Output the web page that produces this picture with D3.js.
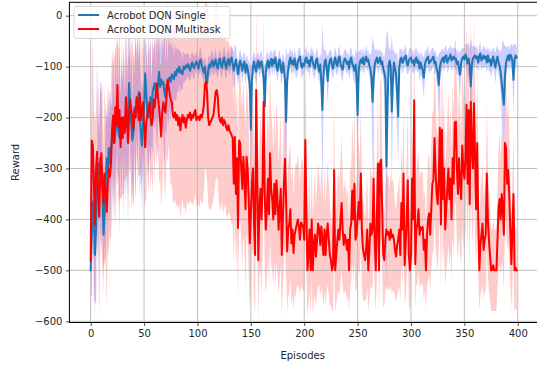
<!DOCTYPE html>
<html>
<head>
<meta charset="utf-8">
<script src="https://cdn.jsdelivr.net/npm/d3@7"></script>
<style>
  body { margin: 0; background: #ffffff; }
  svg { display: block; }
  text { font-family: "DejaVu Sans", sans-serif; fill: #262626; }
</style>
</head>
<body>
<svg id="chart" width="537" height="365"></svg>
<script>
// Mean episode reward and its spread, single-task agent
const singleReward = [
  -500,-430,-365,-400,-470,-420,-330,-290,-310,-280,-300,-350,-430,-390,-330,-280,-310,-260,-290,-264,
  -240,-225,-250,-235,-210,-185,-230,-240,-215,-225,-200,-230,-210,-190,-220,-190,-132,-180,-215,-245,
  -230,-180,-200,-165,-170,-150,-200,-230,-255,-210,-180,-113,-150,-190,-200,-185,-160,-195,-150,-140,
  -132,-150,-160,-135,-110,-140,-125,-135,-130,-150,-160,-135,-145,-125,-121,-130,-115,-120,-125,-110,
  -118,-105,-110,-100,-112,-108,-115,-100,-105,-98,-102,-95,-100,-108,-98,-92,-100,-103,-95,-90,
  -96,-104,-90,-86,-98,-105,-112,-100,-125,-133,-108,-96,-102,-92,-88,-100,-94,-86,-98,-104,
  -90,-84,-97,-102,-88,-82,-96,-104,-90,-85,-98,-88,-82,-94,-108,-96,-86,-100,-115,-98,
  -88,-97,-108,-95,-90,-112,-96,-104,-118,-135,-224,-128,-100,-90,-102,-110,-94,-88,-103,-92,
  -90,-104,-124,-178,-112,-95,-88,-102,-93,-85,-99,-86,-94,-82,-100,-108,-92,-86,-104,-112,
  -92,-103,-128,-208,-126,-106,-90,-82,-95,-88,-97,-84,-98,-105,-90,-86,-80,-96,-102,-94,
  -98,-86,-82,-93,-88,-100,-86,-80,-92,-98,-104,-88,-84,-99,-110,-96,-132,-185,-118,-92,
  -86,-102,-128,-98,-88,-84,-97,-104,-90,-82,-94,-99,-85,-80,-95,-100,-106,-90,-84,-88,
  -95,-90,-104,-88,-82,-94,-100,-108,-96,-122,-195,-108,-92,-86,-93,-82,-96,-86,-80,-90,
  -86,-98,-104,-122,-169,-124,-96,-88,-82,-93,-88,-82,-95,-90,-104,-112,-124,-296,-178,-98,
  -88,-100,-188,-128,-92,-104,-114,-152,-198,-102,-86,-82,-93,-88,-82,-78,-92,-98,-88,-84,
  -82,-92,-88,-98,-86,-82,-93,-88,-104,-92,-100,-108,-122,-96,-88,-84,-80,-94,-90,-88,
  -84,-80,-94,-90,-104,-112,-136,-102,-92,-86,-82,-92,-80,-78,-92,-86,-82,-76,-88,-84,
  -80,-86,-84,-95,-90,-104,-116,-92,-84,-80,-86,-76,-82,-94,-84,-98,-139,-96,-84,-80,
  -78,-84,-80,-92,-78,-74,-88,-84,-78,-84,-80,-92,-78,-90,-86,-98,-88,-80,-92,-102,
  -88,-80,-92,-98,-112,-132,-155,-175,-118,-92,-84,-78,-88,-76,-80,-90,-126,-86,-78,-82
];
const singleSpread = [
  50,120,60,160,90,150,60,180,70,150,170,60,120,50,160,80,170,60,150,90,
  60,170,70,180,60,150,80,190,60,140,70,170,50,180,70,160,110,60,170,80,
  150,60,170,70,140,60,160,80,130,60,150,50,120,60,150,70,130,60,120,50,
  90,50,130,60,100,70,120,60,100,150,60,100,50,90,60,80,45,70,40,55,
  50,45,40,35,40,35,30,30,28,25,25,22,25,20,22,20,25,22,20,18,
  20,18,22,25,20,18,25,22,30,35,25,20,18,22,20,18,20,22,18,20,
  18,20,22,18,20,22,25,20,18,22,20,18,22,30,35,40,25,20,22,25,
  22,20,25,22,18,25,20,22,30,40,120,40,25,20,22,25,20,18,20,22,
  20,22,30,80,30,22,18,20,22,18,20,18,22,20,18,22,20,18,22,25,
  20,22,35,150,50,30,20,18,22,20,18,20,22,18,20,22,18,20,22,20,
  18,20,22,18,20,22,18,20,22,25,20,18,22,20,25,22,50,170,60,22,
  20,25,50,25,20,18,22,20,18,22,20,18,22,20,18,22,25,20,18,22,
  20,18,22,25,20,18,22,25,30,50,120,40,22,20,18,22,20,18,22,20,
  18,22,30,50,130,70,30,20,18,22,20,18,22,20,25,30,60,260,150,40,
  25,30,150,60,25,30,40,80,100,35,20,18,22,20,18,22,20,18,22,20,
  18,20,22,18,20,22,18,20,25,22,25,30,40,25,20,18,22,20,18,22,
  20,18,22,20,25,30,60,30,22,20,18,20,22,18,20,22,18,20,22,20,
  18,22,20,22,25,30,45,25,20,18,20,22,25,40,30,35,95,40,22,20,
  18,20,22,18,20,22,18,20,22,18,20,22,18,20,22,25,22,20,22,30,
  25,22,25,30,40,70,110,120,60,30,22,20,22,18,25,30,70,30,22,20
];

// Mean episode reward and its spread, multitask agent
const multiReward = [
  -480,-245,-255,-330,-410,-300,-267,-350,-395,-300,-270,-325,-370,-310,-345,-385,-330,-300,-316,-290,
  -224,-196,-250,-180,-215,-136,-219,-185,-258,-200,-240,-200,-230,-160,-210,-250,-190,-165,-185,-200,
  -224,-185,-200,-160,-175,-205,-153,-205,-185,-170,-215,-258,-210,-195,-185,-170,-200,-215,-205,-165,
  -180,-150,-133,-160,-180,-205,-237,-190,-170,-185,-190,-160,-126,-140,-153,-165,-170,-195,-200,-190,
  -205,-195,-215,-200,-225,-205,-195,-210,-200,-220,-205,-195,-200,-190,-205,-195,-200,-190,-185,-205,
  -200,-198,-205,-195,-200,-190,-175,-135,-130,-150,-200,-215,-210,-205,-200,-195,-175,-150,-146,-160,
  -195,-205,-210,-200,-215,-205,-210,-220,-225,-215,-225,-230,-235,-240,-330,-238,-350,-280,-417,-245,
  -250,-300,-340,-277,-320,-380,-277,-300,-360,-447,-390,-330,-300,-410,-470,-146,-300,-480,-380,-340,
  -400,-330,-169,-350,-420,-380,-320,-390,-270,-340,-360,-400,-330,-390,-323,-360,-420,-380,-340,-470,
  -400,-330,-281,-360,-463,-420,-408,-380,-447,-420,-466,-430,-420,-410,-400,-414,-440,-406,-410,-415,
  -440,-244,-380,-500,-470,-420,-500,-400,-500,-450,-430,-473,-440,-408,-420,-450,-414,-440,-470,-420,
  -470,-430,-408,-440,-470,-480,-500,-490,-303,-500,-470,-440,-420,-440,-400,-368,-420,-450,-430,-440,
  -460,-440,-500,-420,-408,-343,-400,-330,-440,-430,-394,-366,-400,-310,-420,-457,-470,-480,-457,-420,
  -500,-460,-408,-430,-420,-320,-440,-500,-400,-290,-500,-290,-283,-380,-470,-480,-440,-420,-430,-425,
  -440,-420,-435,-430,-440,-460,-473,-450,-440,-420,-470,-368,-420,-310,-490,-450,-400,-323,-470,-500,
  -470,-320,-400,-166,-488,-420,-408,-380,-430,-415,-420,-415,-460,-440,-500,-430,-400,-388,-430,-380,
  -330,-323,-240,-300,-350,-370,-320,-220,-410,-224,-360,-300,-420,-380,-340,-300,-360,-320,-400,-280,
  -330,-211,-208,-300,-350,-280,-330,-360,-255,-300,-320,-280,-175,-330,-185,-370,-169,-260,-300,-172,
  -280,-380,-250,-400,-500,-450,-430,-408,-460,-440,-430,-310,-400,-440,-470,-500,-500,-490,-500,-500,
  -500,-440,-378,-360,-400,-350,-380,-430,-250,-260,-330,-303,-350,-420,-488,-420,-350,-500,-495,-500
];
const multiSpread = [
  200,120,210,150,200,110,190,130,200,160,120,190,110,180,130,190,120,170,110,160,
  160,100,170,110,160,90,150,170,100,160,110,150,90,160,100,170,110,150,90,160,
  150,100,160,90,150,110,160,90,150,100,160,110,150,90,160,100,150,90,150,100,
  150,90,160,100,150,110,140,160,100,150,170,120,160,110,150,170,160,170,170,170,
  170,175,165,170,175,170,165,170,175,170,165,170,175,170,165,170,175,170,165,170,
  170,175,170,165,170,175,170,165,170,175,170,165,170,175,170,165,170,175,170,165,
  170,175,170,165,175,170,165,170,175,170,165,170,175,170,160,150,160,150,140,160,
  150,140,160,150,140,160,150,140,150,130,150,140,160,150,120,170,150,120,140,150,
  150,140,170,150,130,140,150,140,170,150,140,130,150,140,160,150,130,140,150,120,
  140,150,170,150,120,130,140,130,120,130,110,120,130,120,130,120,110,120,130,120,
  110,170,130,90,100,120,90,120,90,110,120,100,110,120,110,100,120,110,100,120,
  100,110,120,110,100,90,80,90,160,80,100,110,120,110,120,130,110,100,110,100,
  100,110,80,120,110,140,120,150,100,110,120,130,110,140,110,100,90,80,100,110,
  80,100,120,110,110,150,100,80,120,160,80,160,160,120,100,90,100,110,110,110,
  100,110,110,110,100,90,90,100,100,110,90,120,110,140,80,100,120,140,100,80,
  90,130,110,170,90,110,120,120,110,110,110,110,100,100,80,100,120,120,110,120,
  140,140,160,150,130,130,140,160,120,160,130,150,110,120,140,150,130,140,120,150,
  140,160,160,150,130,150,140,130,160,150,140,150,170,140,160,130,170,150,150,170,
  150,120,150,110,80,100,110,120,100,100,110,140,110,100,90,80,80,90,80,80,
  80,100,120,130,110,130,120,110,150,150,130,140,130,110,90,100,120,80,80,80
];

const seriesNames = ["Acrobot DQN Single", "Acrobot DQN Multitask"];
const xTicks = [0, 50, 100, 150, 200, 250, 300, 350, 400];
const yTicks = [0, -100, -200, -300, -400, -500, -600];

const svg = d3.select("#chart");
const frame = { left: 69.4, right: 538, top: 2.3, bottom: 322.5 };

const x = d3.scaleLinear().domain([-19.95, 418.95]).range([frame.left, frame.right]);
const y = d3.scaleLinear().domain([-602.4, 26.3]).range([frame.bottom, frame.top]);

const series = [
  { name: seriesNames[0], mean: singleReward, spread: singleSpread,
    line: "#1f77b4", band: "rgba(0,0,255,0.2)" },
  { name: seriesNames[1], mean: multiReward, spread: multiSpread,
    line: "#ff0000", band: "rgba(255,0,0,0.2)" }
];
series.forEach(s => {
  s.points = s.mean.map((v, i) => ({ ep: i, v, lo: v - s.spread[i], hi: v + s.spread[i] }));
});

svg.append("defs").append("clipPath").attr("id", "plotClip")
  .append("rect")
  .attr("x", frame.left).attr("y", frame.top)
  .attr("width", frame.right - frame.left).attr("height", frame.bottom - frame.top);

const plot = svg.append("g").attr("clip-path", "url(#plotClip)");

// shaded spread bands
const area = d3.area().x(d => x(d.ep)).y0(d => y(d.lo)).y1(d => y(d.hi));
series.forEach(s => {
  plot.append("path").datum(s.points)
    .attr("d", area).attr("fill", s.band).attr("stroke", "none");
});

// grid
const grid = plot.append("g").attr("stroke", "#b0b0b0").attr("stroke-width", 0.8);
xTicks.forEach(t => grid.append("line")
  .attr("x1", x(t)).attr("x2", x(t)).attr("y1", frame.top).attr("y2", frame.bottom));
yTicks.forEach(t => grid.append("line")
  .attr("x1", frame.left).attr("x2", frame.right).attr("y1", y(t)).attr("y2", y(t)));

// mean lines
const line = d3.line().x(d => x(d.ep)).y(d => y(d.v));
series.forEach(s => {
  plot.append("path").datum(s.points)
    .attr("d", line).attr("fill", "none")
    .attr("stroke", s.line).attr("stroke-width", 2)
    .attr("stroke-linejoin", "round").attr("stroke-linecap", "square");
});

// axes
const fmt = d3.format("");
const xAxis = svg.append("g").attr("transform", `translate(0,${frame.bottom})`)
  .call(d3.axisBottom(x).tickValues(xTicks).tickFormat(fmt).tickSize(3.5).tickPadding(3.5));
const yAxis = svg.append("g").attr("transform", `translate(${frame.left},0)`)
  .call(d3.axisLeft(y).tickValues(yTicks).tickFormat(fmt).tickSize(3.5).tickPadding(3.5));
[xAxis, yAxis].forEach(a => {
  a.select(".domain").remove();
  a.selectAll(".tick line").attr("stroke", "#262626").attr("stroke-width", 0.8);
  a.selectAll(".tick text").attr("font-size", 10).attr("fill", "#262626")
    .attr("font-family", "DejaVu Sans, sans-serif");
});

// spines
svg.append("rect")
  .attr("x", frame.left).attr("y", frame.top)
  .attr("width", frame.right - frame.left).attr("height", frame.bottom - frame.top)
  .attr("fill", "none").attr("stroke", "#000").attr("stroke-width", 1);

// axis titles
svg.append("text").attr("x", (frame.left + frame.right) / 2 - 1).attr("y", 359)
  .attr("text-anchor", "middle").attr("font-size", 10).text("Episodes");
svg.append("text").attr("transform", `translate(19,${(frame.top + frame.bottom) / 2}) rotate(-90)`)
  .attr("text-anchor", "middle").attr("font-size", 10).text("Reward");

// legend
const legend = svg.append("g");
legend.append("rect").attr("x", 74).attr("y", 6.5).attr("width", 156).attr("height", 32)
  .attr("rx", 2).attr("fill", "rgba(255,255,255,0.8)").attr("stroke", "#cccccc").attr("stroke-width", 0.8);
series.forEach((s, i) => {
  const cy = 15 + i * 14;
  legend.append("line").attr("x1", 78).attr("x2", 99).attr("y1", cy).attr("y2", cy)
    .attr("stroke", s.line).attr("stroke-width", 2);
  legend.append("text").attr("x", 107).attr("y", cy + 3.6).attr("font-size", 10).text(s.name);
});
</script>
</body>
</html>
